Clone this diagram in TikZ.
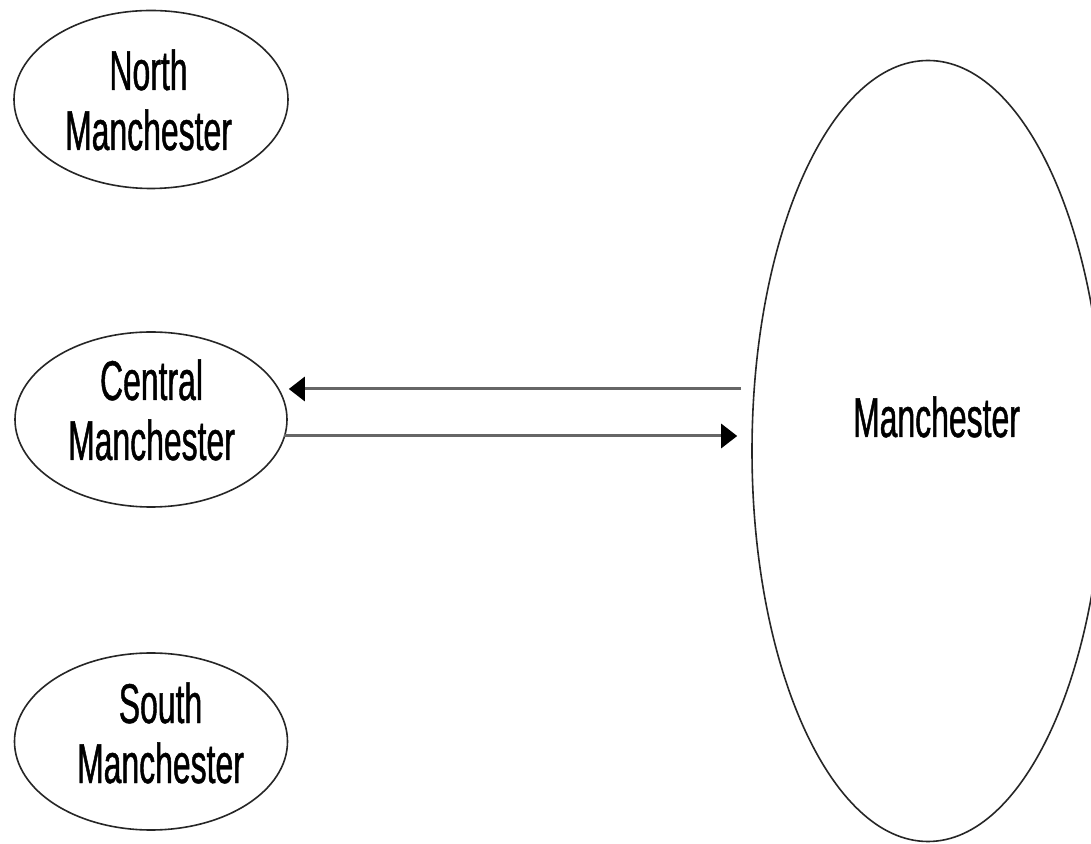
\documentclass[tikz,border=0pt]{standalone}
\usepackage{fontspec}
\setmainfont{Liberation Sans}[FakeStretch=0.57,FakeBold=0.8]
\usetikzlibrary{arrows.meta,shapes.geometric}
\begin{document}
\begin{tikzpicture}[x=1pt,y=1pt,
  region/.style={draw=black!85,line width=1.6pt,ellipse,inner sep=0pt,fill=none},
  lbl/.style={font=\fontsize{56}{60}\selectfont,align=center,inner sep=0pt,anchor=base},
  conn/.style={draw=black!60,line width=3pt,-{Triangle[length=16pt,width=24pt,color=black]}}]
\useasboundingbox (0,0) rectangle (1091,843);
\clip (0,0) rectangle (1091,843);
\fill[white] (0,0) rectangle (1091,843);
% ellipses
\node[region,minimum width=274pt,minimum height=178pt] (N) at (151,743.5) {};
\node[region,minimum width=272pt,minimum height=175pt] (C) at (151,423.5) {};
\node[region,minimum width=273pt,minimum height=177pt] (S) at (151,101.5) {};
\node[region,minimum width=352pt,minimum height=781pt] (M) at (928,392) {};
% labels
\node[lbl] (Nt) at (148.5,693) {North\\Manchester};
\node[lbl] (Ct) at (151.5,383) {Central\\Manchester};
\node[lbl] (St) at (160.5,60) {South\\Manchester};
\node[lbl] (Mt) at (936.5,406) {Manchester};
% connectors
\path (M.west) ++(-10,62) coordinate (m1);
\path (C.east) ++(1,30.5) coordinate (c1);
\path (C.east) ++(-4,-16.5) coordinate (c2);
\path (M.west) ++(-14,-15) coordinate (m2);
\draw[conn] (m1) -- (m1 -| c1);
\draw[conn] (c2) -- (c2 -| m2);
\end{tikzpicture}
\end{document}
